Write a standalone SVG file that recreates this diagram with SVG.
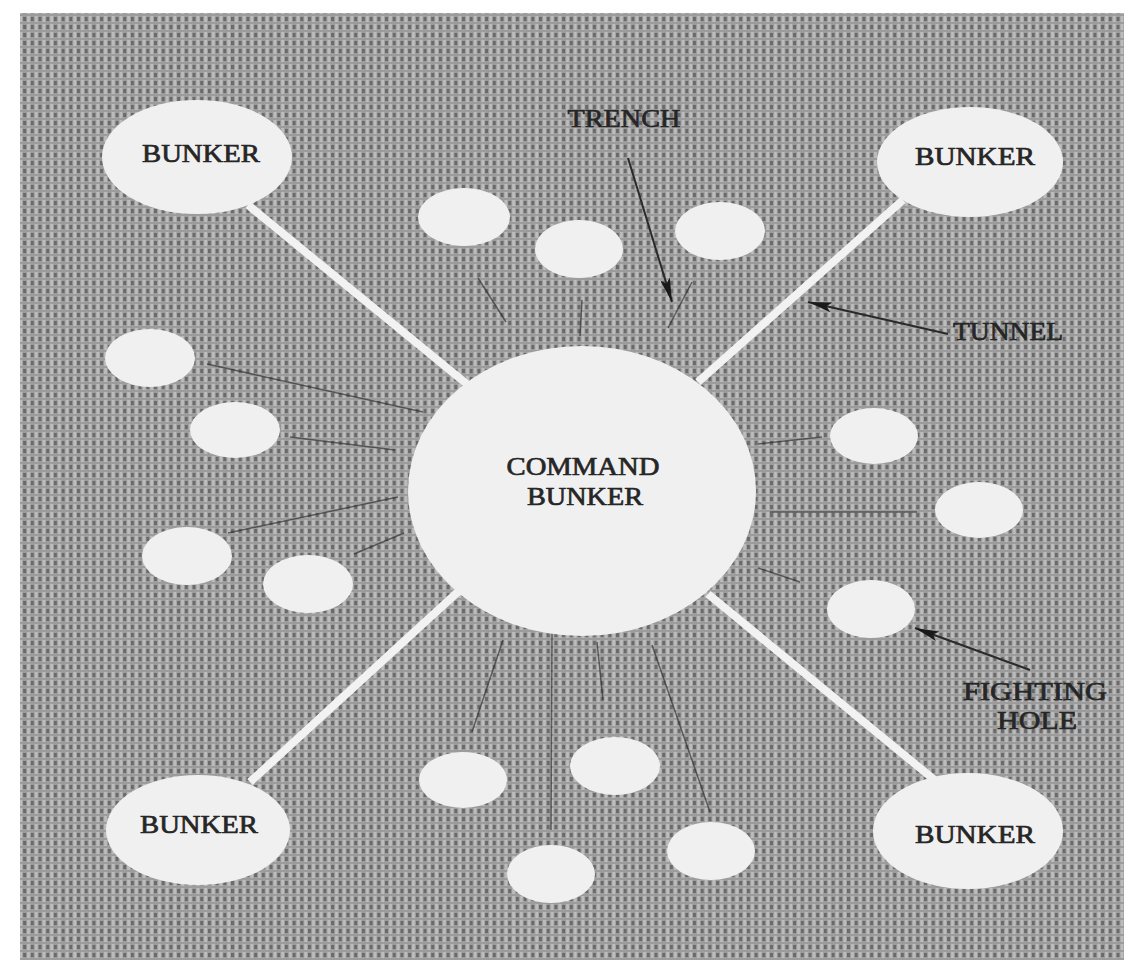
<svg xmlns="http://www.w3.org/2000/svg" width="1124" height="960" viewBox="0 0 1124 960">
<defs>
<pattern id="tex" width="7.7" height="8" patternUnits="userSpaceOnUse">
<rect width="7.7" height="8" fill="#9c9c9c"/>
<rect x="0" y="1" width="3" height="4" fill="#6a6a6a"/>
<rect x="4" y="0" width="3" height="6" fill="#bdbdbd"/>
</pattern>
<marker id="ah" viewBox="0 0 24 10" refX="24" refY="5" markerWidth="24" markerHeight="10" markerUnits="userSpaceOnUse" orient="auto">
<path d="M0,0 L24,5 L0,10 L5,5 Z" fill="#1a1a1a"/>
</marker>
</defs>
<style>
.blob{fill:#f0f0f0;}
.lbl{font-family:"Liberation Serif","Times New Roman",serif;font-size:26px;font-weight:normal;fill:#262626;stroke:#262626;stroke-width:0.7;text-anchor:middle;}
.tunnel{stroke:#f2f2f2;stroke-width:8;stroke-linecap:butt;fill:none;}
.trench{stroke:#2a2a2a;stroke-width:1.5;fill:none;opacity:0.65;}
.ptr{stroke:#2a2a2a;stroke-width:2;fill:none;}
</style>
<rect width="1124" height="960" fill="#ffffff"/>
<rect x="20" y="13" width="1104" height="947" fill="url(#tex)"/>

<g id="connectors">
<line class="tunnel" x1="248" y1="205" x2="468" y2="385"/>
<line class="tunnel" x1="903" y1="200" x2="698" y2="382"/>
<line class="tunnel" x1="250" y1="782" x2="460" y2="590"/>
<line class="tunnel" x1="708" y1="594" x2="937" y2="782"/>
<line class="trench" x1="478" y1="278" x2="506" y2="322"/>
<line class="trench" x1="582" y1="300" x2="580" y2="336"/>
<line class="trench" x1="692" y1="282" x2="668" y2="328"/>
<line class="trench" x1="207" y1="364" x2="423" y2="412"/>
<line class="trench" x1="290" y1="437" x2="395" y2="450"/>
<line class="trench" x1="228" y1="533" x2="398" y2="497"/>
<line class="trench" x1="354" y1="554" x2="404" y2="533"/>
<line class="trench" x1="758" y1="444" x2="822" y2="437"/>
<line class="trench" x1="770" y1="512" x2="917" y2="512"/>
<line class="trench" x1="758" y1="568" x2="800" y2="582"/>
<line class="trench" x1="503" y1="640" x2="472" y2="732"/>
<line class="trench" x1="552" y1="633" x2="551" y2="830"/>
<line class="trench" x1="597" y1="642" x2="603" y2="700"/>
<line class="trench" x1="652" y1="645" x2="710" y2="812"/>
</g>

<g id="command-bunker">
<ellipse class="blob" cx="582" cy="491" rx="174" ry="145"/>
<text class="lbl" x="583" y="475" textLength="153" lengthAdjust="spacingAndGlyphs">COMMAND</text>
<text class="lbl" x="585" y="505" textLength="116" lengthAdjust="spacingAndGlyphs">BUNKER</text>
</g>

<g id="bunker-tl">
<ellipse class="blob" cx="197" cy="157" rx="95" ry="57"/>
<text class="lbl" x="201" y="162" textLength="118" lengthAdjust="spacingAndGlyphs">BUNKER</text>
</g>
<g id="bunker-tr">
<ellipse class="blob" cx="970" cy="162" rx="93" ry="55"/>
<text class="lbl" x="975" y="165" textLength="120" lengthAdjust="spacingAndGlyphs">BUNKER</text>
</g>
<g id="bunker-bl">
<ellipse class="blob" cx="198" cy="830" rx="92" ry="55"/>
<text class="lbl" x="199" y="833" textLength="118" lengthAdjust="spacingAndGlyphs">BUNKER</text>
</g>
<g id="bunker-br">
<ellipse class="blob" cx="968" cy="831" rx="95" ry="58"/>
<text class="lbl" x="975" y="843" textLength="120" lengthAdjust="spacingAndGlyphs">BUNKER</text>
</g>

<g id="fighting-holes">
<ellipse id="fh-t1" class="blob" cx="464" cy="217" rx="46" ry="29"/>
<ellipse id="fh-t2" class="blob" cx="579" cy="249" rx="44" ry="29"/>
<ellipse id="fh-t3" class="blob" cx="720" cy="231" rx="45" ry="29"/>
<ellipse id="fh-l1" class="blob" cx="150" cy="358" rx="45" ry="29"/>
<ellipse id="fh-l2" class="blob" cx="235" cy="430" rx="45" ry="28"/>
<ellipse id="fh-l3" class="blob" cx="187" cy="556" rx="45" ry="29"/>
<ellipse id="fh-l4" class="blob" cx="308" cy="584" rx="45" ry="29"/>
<ellipse id="fh-r1" class="blob" cx="874" cy="436" rx="44" ry="28"/>
<ellipse id="fh-r2" class="blob" cx="979" cy="510" rx="44" ry="28"/>
<ellipse id="fh-r3" class="blob" cx="871" cy="609" rx="44" ry="29"/>
<ellipse id="fh-b1" class="blob" cx="463" cy="780" rx="44" ry="28"/>
<ellipse id="fh-b2" class="blob" cx="615" cy="766" rx="45" ry="29"/>
<ellipse id="fh-b3" class="blob" cx="551" cy="874" rx="44" ry="29"/>
<ellipse id="fh-b4" class="blob" cx="711" cy="851" rx="44" ry="29"/>
</g>

<g id="annotations">
<text class="lbl" x="624" y="127" textLength="113" lengthAdjust="spacingAndGlyphs">TRENCH</text>
<line class="ptr" x1="628" y1="158" x2="672" y2="302" marker-end="url(#ah)"/>
<text class="lbl" x="1008" y="340" textLength="110" lengthAdjust="spacingAndGlyphs">TUNNEL</text>
<line class="ptr" x1="948" y1="334" x2="808" y2="302" marker-end="url(#ah)"/>
<text class="lbl" x="1035" y="700" textLength="144" lengthAdjust="spacingAndGlyphs">FIGHTING</text>
<text class="lbl" x="1037" y="729" textLength="80" lengthAdjust="spacingAndGlyphs">HOLE</text>
<line class="ptr" x1="1030" y1="670" x2="915" y2="628" marker-end="url(#ah)"/>
</g>
</svg>
